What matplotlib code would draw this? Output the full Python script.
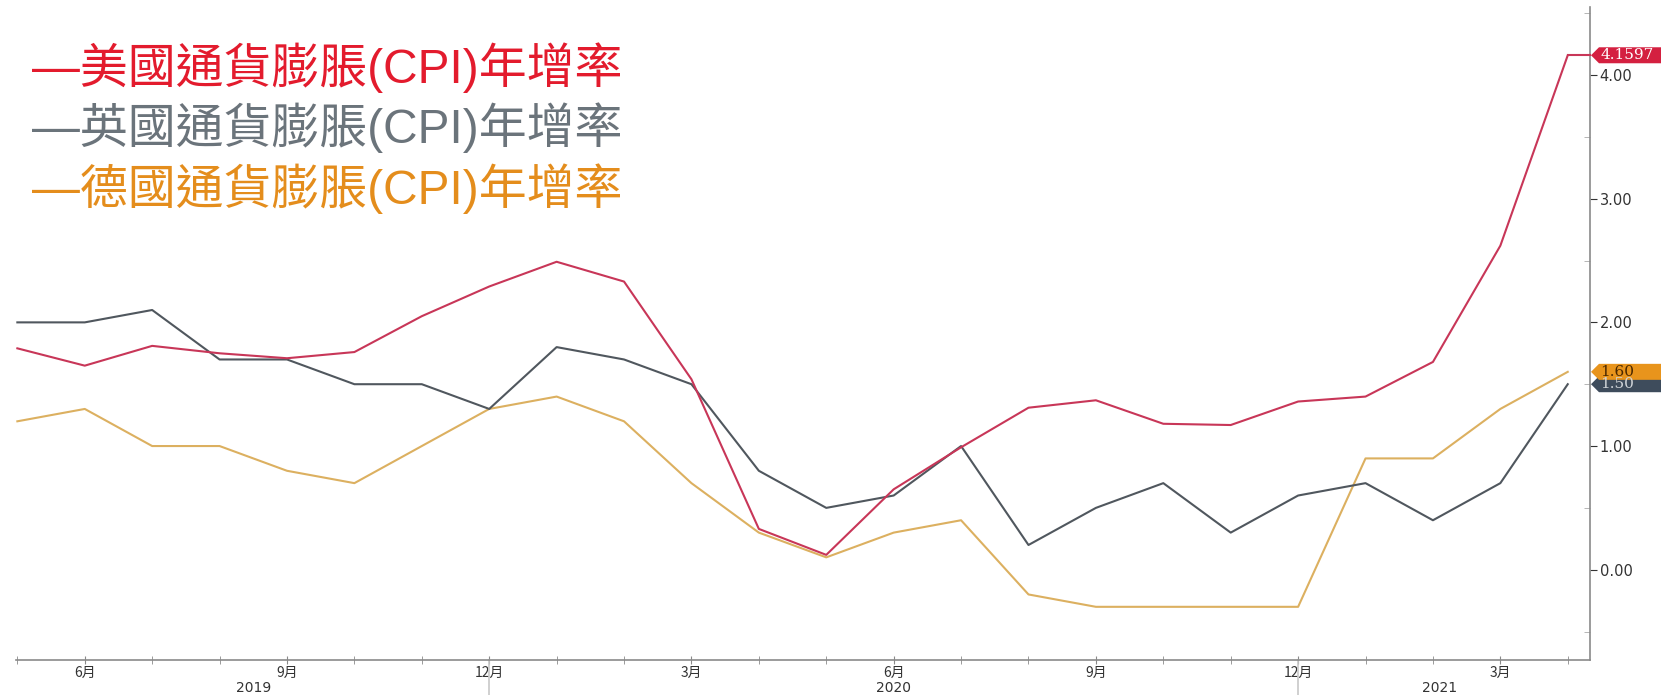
import numpy as np
import matplotlib
matplotlib.use("Agg")
import matplotlib.pyplot as plt
from matplotlib.patches import Polygon
from matplotlib.transforms import IdentityTransform, blended_transform_factory

# ---- data (monthly, May 2019 .. Apr 2021) ----
us_cpi = [1.79, 1.65, 1.81, 1.75, 1.71, 1.76, 2.05, 2.29, 2.49, 2.33, 1.54, 0.33,
          0.12, 0.65, 0.99, 1.31, 1.37, 1.18, 1.17, 1.36, 1.40, 1.68, 2.62, 4.1597]
uk_cpi = [2.0, 2.0, 2.1, 1.7, 1.7, 1.5, 1.5, 1.3, 1.8, 1.7, 1.5, 0.8,
          0.5, 0.6, 1.0, 0.2, 0.5, 0.7, 0.3, 0.6, 0.7, 0.4, 0.7, 1.5]
de_cpi = [1.2, 1.3, 1.0, 1.0, 0.8, 0.7, 1.0, 1.3, 1.4, 1.2, 0.7, 0.3,
          0.1, 0.3, 0.4, -0.2, -0.3, -0.3, -0.3, -0.3, 0.9, 0.9, 1.3, 1.6]
month_tick_idx = [1, 4, 7, 10, 13, 16, 19, 22]
month_tick_labels = ['6月', '9月', '12月', '3月', '6月', '9月', '12月', '3月']
year_labels = ['2019', '2020', '2021']
year_label_pos = [3.5, 13.0, 21.1]
year_boundary_idx = [7, 19]
y_ticks = [0, 1, 2, 3, 4]
y_tick_labels = ['0.00', '1.00', '2.00', '3.00', '4.00']
tag_labels = ['4.1597', '1.50', '1.60']
legend_texts = ['—美國通貨膨脹(CPI)年增率', '—英國通貨膨脹(CPI)年增率', '—德國通貨膨脹(CPI)年增率']

x = np.arange(len(us_cpi))

W, H = 1669, 695
fig = plt.figure(figsize=(W / 100, H / 100), dpi=100)
ax = fig.add_axes([16 / W, (H - 660) / H, (1590 - 16) / W, (660 - 7) / H])

c_us, c_uk, c_de = '#c83658', '#50575e', '#dcb060'
ax.plot(x, de_cpi, color=c_de, lw=1.5, zorder=2)
ax.plot(x, uk_cpi, color=c_uk, lw=1.5, zorder=3)
ax.plot(x, us_cpi, color=c_us, lw=1.5, zorder=4)

xmax = 23.33
ax.set_xlim(-0.02, xmax)
ax.set_ylim(-0.73, 4.55)
# connector of last US value to axis
ax.plot([x[-1], xmax], [us_cpi[-1], us_cpi[-1]], color=c_us, lw=1.5, zorder=4, clip_on=False)

for s in ['left', 'top']:
    ax.spines[s].set_visible(False)
for s in ['right', 'bottom']:
    ax.spines[s].set_color('#8a8a8a')
    ax.spines[s].set_linewidth(1.2)

ax.yaxis.tick_right()
ax.set_yticks(y_ticks)
ax.set_yticklabels(y_tick_labels)
ax.set_yticks(np.arange(-0.5, 4.6, 1.0), minor=True)
ax.tick_params(axis='y', which='major', direction='out', length=5, color='#333333',
               labelsize=10.5, labelcolor='#333333', pad=2)
ax.tick_params(axis='y', which='minor', direction='in', length=4, color='#aaaaaa')
for lab in ax.get_yticklabels():
    lab.set_family('DejaVu Sans')

ax.set_xticks(month_tick_idx)
ax.set_xticklabels(month_tick_labels, family=['Noto Sans CJK TC', 'DejaVu Sans'])
ax.set_xticks(x, minor=True)
ax.tick_params(axis='x', which='both', direction='inout', length=6, color='#8a8a8a',
               labelsize=10, labelcolor='#333333', pad=1)

bt = blended_transform_factory(ax.transData, ax.transAxes)
for xi in year_boundary_idx:
    ax.plot([xi, xi], [0, -0.06], color='#c8c8c8', lw=1.2, transform=bt, clip_on=False)
for lab, xp in zip(year_labels, year_label_pos):
    ax.text(xp, -0.043, lab, transform=bt, ha='center', va='center', fontsize=10,
            color='#333333', family='DejaVu Sans')

ax.grid(False)

# ---- value tags on the right axis ----
fig.canvas.draw()
x_sp = ax.transAxes.transform((1, 0))[0]
tags = [(uk_cpi[-1], '#3e4c5c', '#d0d4d8', tag_labels[1]),
        (de_cpi[-1], '#e8941c', '#4a2800', tag_labels[2]),
        (us_cpi[-1], '#d42040', '#ffffff', tag_labels[0])]
for val, fc, tc, txt in tags:
    yc = ax.transData.transform((0, val))[1]
    h = 8
    x0 = x_sp + 1
    x1 = x0 + 8
    x2 = x0 + 70
    poly = Polygon([[x0, yc], [x1, yc + h], [x2, yc + h], [x2, yc - h], [x1, yc - h]],
                   closed=True, facecolor=fc, edgecolor='none', transform=IdentityTransform())
    fig.add_artist(poly)
    fig.text(x0 + 9, yc, txt, transform=IdentityTransform(), color=tc, fontsize=11,
             family='DejaVu Serif', va='center', ha='left')

# ---- legend text ----
leg_colors = ['#e31b2d', '#6b747b', '#e48d1c']
leg_y = [68, 128, 189]
for t, c, yy in zip(legend_texts, leg_colors, leg_y):
    fig.text(32 / W, 1 - yy / H, t, color=c, fontsize=34.5, va='center', ha='left',
             family=['Liberation Sans', 'Noto Sans CJK TC'])

fig.savefig('out.png', dpi=100)
